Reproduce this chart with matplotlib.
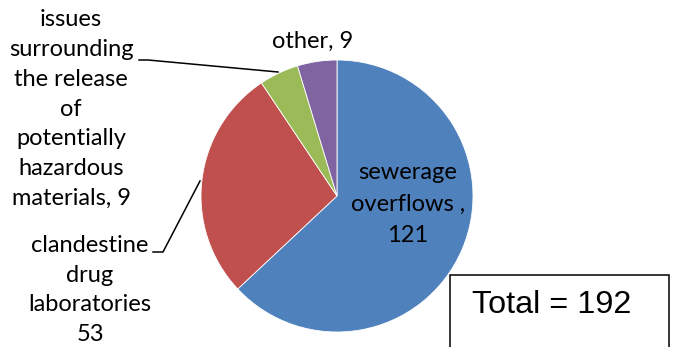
import matplotlib
matplotlib.use("Agg")
import matplotlib.pyplot as plt
from matplotlib.patches import Rectangle

# Incident categories (clockwise from 12 o'clock)
categories = ["sewerage overflows", "clandestine drug laboratories",
              "issues surrounding the release of potentially hazardous materials",
              "other"]
counts = [121, 53, 9, 9]
colors = ["#4F81BD", "#C0504D", "#9BBB59", "#8064A2"]

W, H = 673, 347
fig = plt.figure(figsize=(W / 100, H / 100), dpi=100)
ax = fig.add_axes([0, 0, 1, 1])

# pie in pixel-like coordinates (y measured from bottom)
ax.pie(counts, colors=colors, startangle=90, counterclock=False,
       center=(337, H - 196), radius=136,
       wedgeprops=dict(linewidth=0.6, edgecolor="white"))
ax.set_xlim(0, W)
ax.set_ylim(0, H)
ax.set_aspect("equal")
ax.axis("off")

font = dict(family="Lato", fontsize=17, color="black")

def px(x, y):
    return x, H - y

# labels
ax.text(*px(408, 204), "sewerage\noverflows ,\n%d" % counts[0],
        ha="center", va="center", linespacing=1.64, **font)
ax.text(*px(313, 41), "other, %d" % counts[3],
        ha="center", va="center", **font)
ax.text(*px(71, 109),
        "issues\nsurrounding\nthe release\nof\npotentially\nhazardous\nmaterials, %d" % counts[2],
        ha="center", va="center", linespacing=1.52, **font)
ax.text(*px(90, 290), "clandestine\ndrug\nlaboratories\n%d" % counts[1],
        ha="center", va="center", linespacing=1.52, **font)

# leader lines
ax.plot(*zip(px(139, 60), px(148, 60), px(278, 72)), color="black", lw=1.1)
ax.plot(*zip(px(153, 252), px(163, 252), px(200, 181)), color="black", lw=1.1)

# total box
ax.add_patch(Rectangle(px(450, 360), 219, 85, fill=False,
                       edgecolor="black", lw=1.1, clip_on=False))
ax.text(*px(472, 305), "Total = %d" % sum(counts), family="Liberation Sans",
        fontsize=23.3, ha="left", va="center")

fig.savefig("out.png", dpi=100)
